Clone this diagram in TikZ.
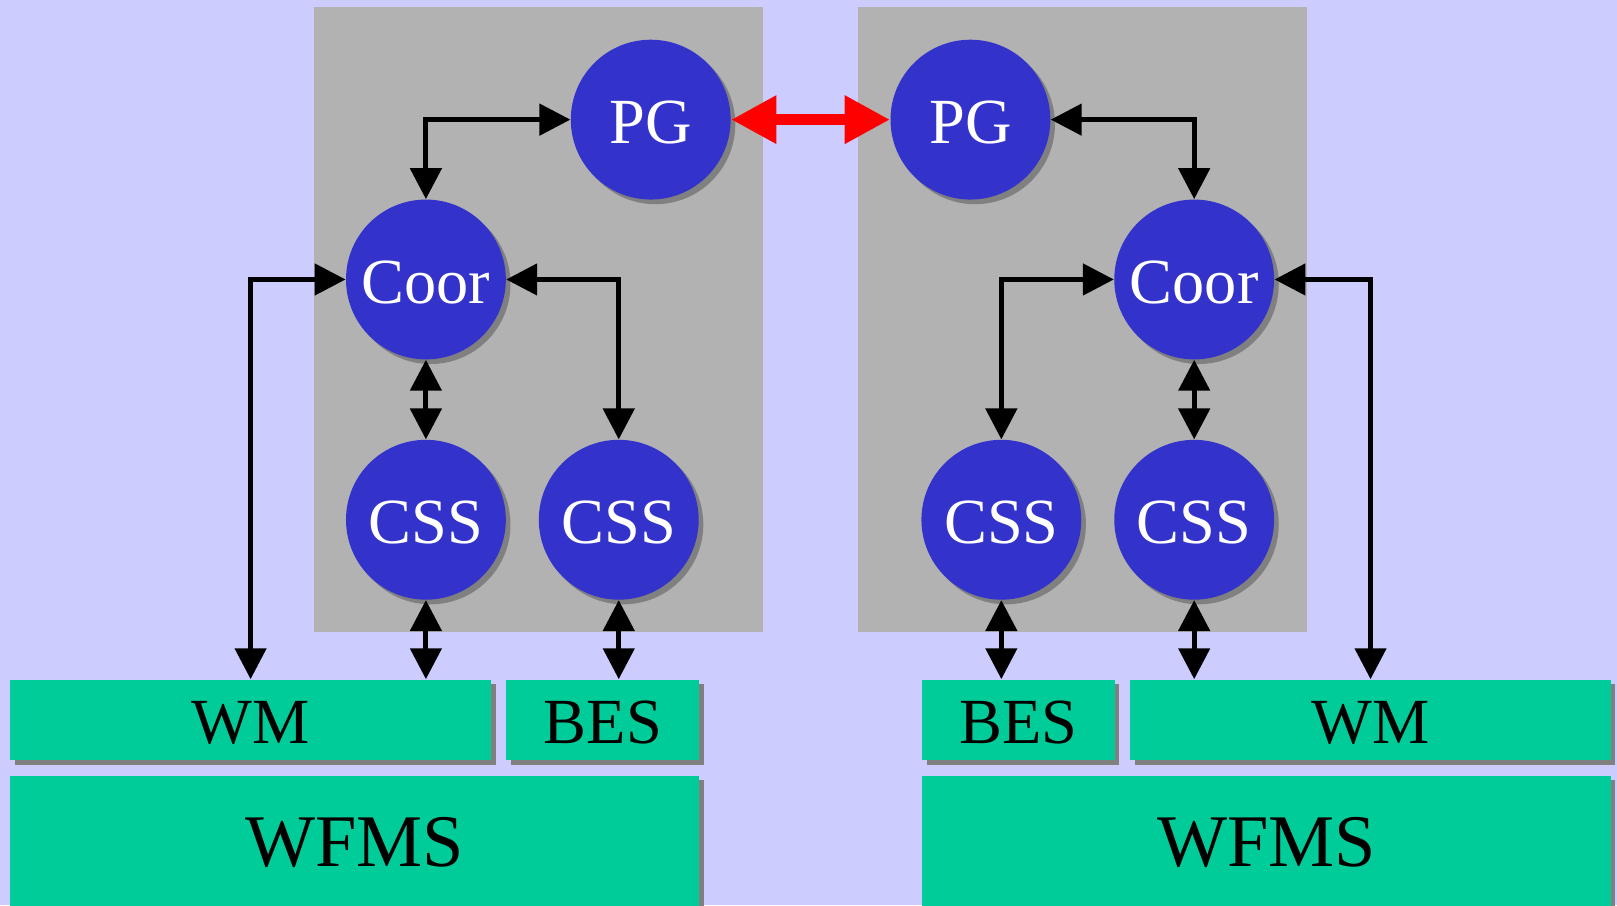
\documentclass[tikz,border=0pt]{standalone}
\usepackage{fontspec}
\setmainfont{Liberation Serif}
\usetikzlibrary{arrows.meta,shadows}
\definecolor{bgc}{HTML}{CCCCFF}
\definecolor{panelc}{HTML}{B2B2B2}
\definecolor{nodec}{HTML}{3333CC}
\definecolor{boxc}{HTML}{00CC99}
\definecolor{shadc}{HTML}{808080}
\begin{document}
\begin{tikzpicture}[x=0.5pt,y=-0.5pt,
  shad/.style={drop shadow={shadow xshift=2.25pt,shadow yshift=-2.25pt,opacity=1,fill=shadc}},
  proc/.style={circle,fill=nodec,text=white,minimum size=77.5pt,inner sep=0pt,shad,font=\fontsize{31.2pt}{36pt}\selectfont,text height=23.2pt,text depth=0pt},
  comp/.style={rectangle,fill=boxc,text=black,inner sep=0pt,shad,font=\fontsize{31.2pt}{36pt}\selectfont,text height=23.2pt,text depth=0pt,minimum height=39pt},
  bigcomp/.style={comp,minimum height=64pt,font=\fontsize{36pt}{40pt}\selectfont,text height=23.8pt},
  link/.style={draw=black,line width=2.4pt,{Triangle[length=15pt,width=15pt]}-{Triangle[length=15pt,width=15pt]}},
  redlink/.style={draw=red,line width=5.6pt,{Triangle[length=22pt,width=22pt]}-{Triangle[length=22pt,width=22pt]}}]
\fill[bgc] (0,0) rectangle (1568,878);
\useasboundingbox (0,0) rectangle (1568,878);
% panels
\fill[panelc] (304,7) rectangle (740,612.5);
\fill[panelc] (832,7) rectangle (1267,612.5);
% processes
\node[proc] (pgL) at (631,116) {PG};
\node[proc] (coorL) at (413,271) {Coor};
\node[proc] (cssL1) at (413,504) {CSS};
\node[proc] (cssL2) at (600,504) {CSS};
\node[proc] (pgR) at (941,116) {PG};
\node[proc] (coorR) at (1158,271) {Coor};
\node[proc] (cssR1) at (971,504) {CSS};
\node[proc] (cssR2) at (1158,504) {CSS};
% components
\node[comp,minimum width=233pt] (wmL) at (243,698) {WM};
\node[comp,minimum width=93.5pt] (besL) at (584.5,698) {BES};
\node[bigcomp,minimum width=334pt] (wfmsL) at (344,816) {WFMS};
\node[comp,minimum width=93.5pt] (besR) at (987.5,698) {BES};
\node[comp,minimum width=233pt] (wmR) at (1329,698) {WM};
\node[bigcomp,minimum width=334pt] (wfmsR) at (1228,816) {WFMS};
% left connectors
\draw[link] (coorL.north) |- (pgL.west);
\draw[link] (coorL.west) -| (wmL.north);
\draw[link] (coorL.east) -| (cssL2.north);
\draw[link] (coorL.south) -- (cssL1.north);
\draw[link] (cssL1.south) -- (cssL1.south |- wmL.north);
\draw[link] (cssL2.south) -- (cssL2.south |- besL.north);
% right connectors
\draw[link] (pgR.east) -| (coorR.north);
\draw[link] (coorR.west) -| (cssR1.north);
\draw[link] (coorR.east) -| (wmR.north);
\draw[link] (coorR.south) -- (cssR2.north);
\draw[link] (cssR1.south) -- (cssR1.south |- besR.north);
\draw[link] (cssR2.south) -- (cssR2.south |- wmR.north);
% red link
\draw[redlink] (pgL.east) -- (pgR.west);
\end{tikzpicture}
\end{document}
